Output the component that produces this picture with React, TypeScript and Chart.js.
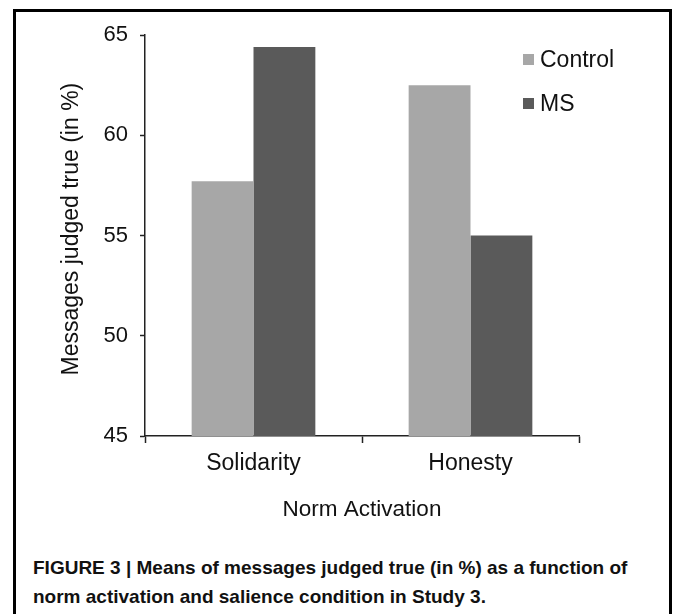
import React, { useEffect, useRef } from "react";
import { Chart, registerables } from "chart.js";

Chart.register(...registerables);

const categories = ["Solidarity", "Honesty"];
const controlValues = [57.7, 62.5];
const msValues = [64.4, 55.0];
const seriesNames = ["Control", "MS"];
const yTickMin = 45;
const yTickMax = 65;
const yTickStep = 5;

const FONT = "'Liberation Sans', Arial, Helvetica, sans-serif";

const legendPlugin = {
  id: "insetLegend",
  afterDraw(chart: any) {
    const ctx = chart.ctx;
    ctx.save();
    ctx.font = `23px ${FONT}`;
    ctx.textBaseline = "middle";
    ctx.textAlign = "left";
    chart.data.datasets.forEach((ds: any, i: number) => {
      const y = 59.5 + i * 44;
      ctx.fillStyle = ds.backgroundColor;
      ctx.fillRect(523, y - 5.5, 11, 11);
      ctx.fillStyle = "#111";
      ctx.fillText(ds.label, 540, y + 1);
    });
    ctx.restore();
  },
};

export default function App() {
  const ref = useRef<HTMLCanvasElement | null>(null);

  useEffect(() => {
    if (!ref.current) return;
    const chart = new Chart(ref.current, {
      type: "bar",
      data: {
        labels: categories,
        datasets: [
          {
            label: seriesNames[0],
            data: controlValues,
            backgroundColor: "#a7a7a7",
            borderWidth: 0,
            categoryPercentage: 0.57,
            barPercentage: 1.0,
          },
          {
            label: seriesNames[1],
            data: msValues,
            backgroundColor: "#5a5a5a",
            borderWidth: 0,
            categoryPercentage: 0.57,
            barPercentage: 1.0,
          },
        ],
      },
      plugins: [legendPlugin],
      options: {
        animation: false,
        responsive: false,
        maintainAspectRatio: false,
        devicePixelRatio: 1,
        layout: { padding: { left: 0, top: 35, right: 94, bottom: 9 } },
        plugins: {
          legend: { display: false },
          tooltip: { enabled: false },
          title: { display: false },
        },
        scales: {
          x: {
            grid: {
              display: true,
              drawOnChartArea: false,
              drawTicks: true,
              tickLength: 7,
              tickWidth: 1.5,
              tickColor: "#222",
              offset: true,
            },
            border: { display: true, color: "#222", width: 1.5 },
            ticks: {
              color: "#111",
              padding: 7,
              font: { family: FONT, size: 23 },
            },
            title: {
              display: true,
              text: "Norm Activation",
              color: "#111",
              padding: { top: 0, bottom: 13 },
              font: { family: FONT, size: 22.5 },
            },
            afterFit: (scale: any) => {
              scale.height = 100;
            },
          },
          y: {
            min: yTickMin,
            max: yTickMax,
            grid: {
              display: true,
              drawOnChartArea: false,
              drawTicks: true,
              tickLength: 5,
              tickWidth: 1.5,
              tickColor: "#222",
            },
            border: { display: true, color: "#222", width: 1.5 },
            ticks: {
              stepSize: yTickStep,
              color: "#111",
              padding: 12,
              font: { family: FONT, size: 22 },
            },
            title: {
              display: true,
              text: "\u00A0\u00A0Messages judged true (in %)",
              color: "#111",
              padding: { top: 58, bottom: 0 },
              font: { family: FONT, size: 23 },
            },
            afterFit: (scale: any) => {
              scale.width = 145;
            },
          },
        },
      },
    });
    return () => chart.destroy();
  }, []);

  return (
    <div
      style={{
        position: "absolute",
        left: 0,
        top: 0,
        width: 673,
        height: 614,
        overflow: "hidden",
        background: "#fff",
      }}
    >
      <div
        style={{
          position: "absolute",
          left: 13,
          top: 9,
          width: 659,
          height: 700,
          border: "3px solid #000",
          boxSizing: "border-box",
        }}
      />
      <canvas
        ref={ref}
        width={673}
        height={545}
        style={{ position: "absolute", left: 0, top: 0, width: 673, height: 545 }}
      />
      <div
        style={{
          position: "absolute",
          left: 33,
          top: 553,
          width: 625,
          fontFamily: FONT,
          fontWeight: "bold",
          fontSize: 19,
          lineHeight: "29px",
          color: "#111",
        }}
      >
        FIGURE 3 | Means of messages judged true (in %) as a function of
        <br />
        norm activation and salience condition in Study 3.
      </div>
    </div>
  );
}
